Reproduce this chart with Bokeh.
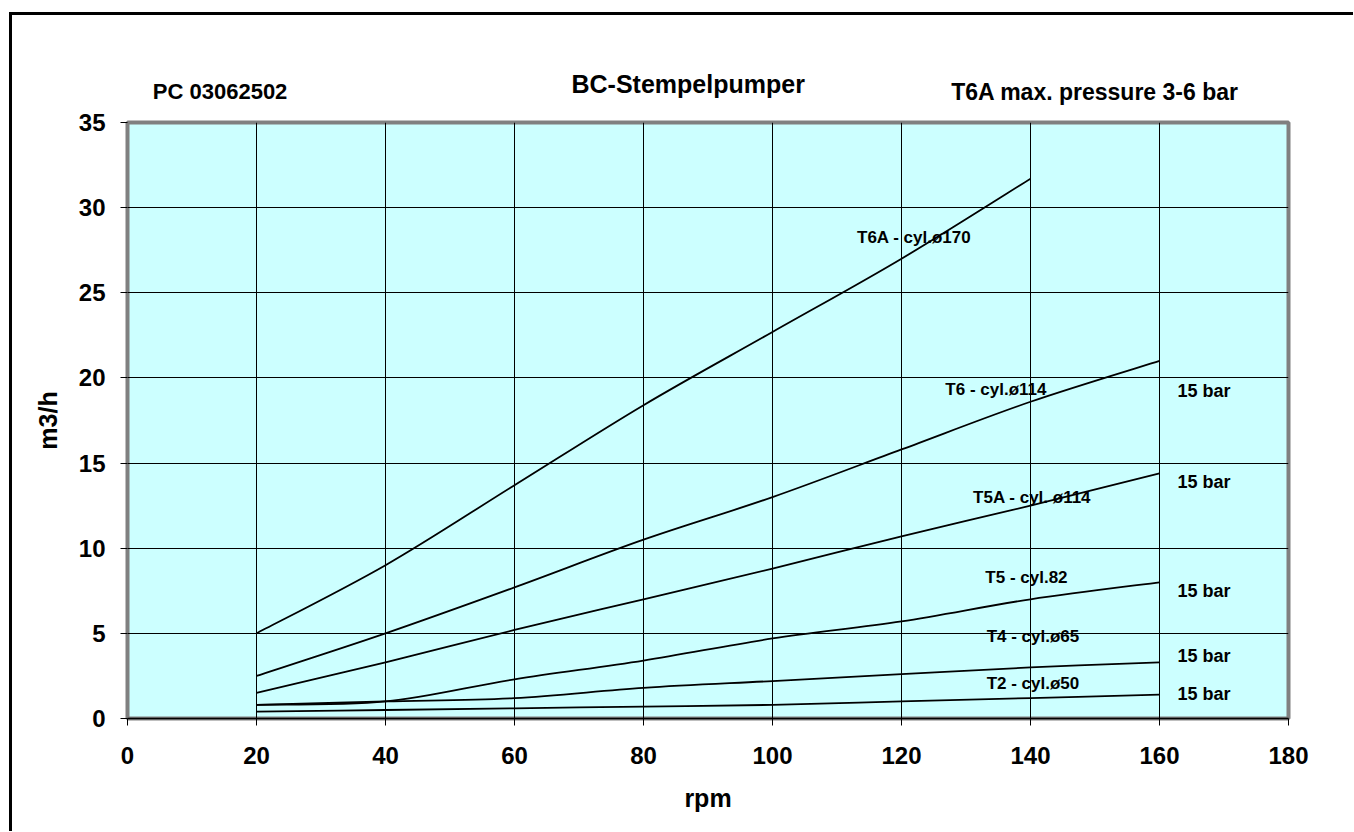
from bokeh.plotting import figure
from bokeh.models import Label, FixedTicker, Range1d
from bokeh.embed import file_html
from bokeh.resources import INLINE
from bokeh.core.properties import value

# ---------------- data ----------------
rpm = [20, 40, 60, 80, 100, 120, 140, 160]
rpm_t6a = [20, 40, 60, 80, 100, 120, 140]
t6a = [5.0, 9.0, 13.7, 18.4, 22.7, 27.0, 31.7]
t6 = [2.5, 5.0, 7.7, 10.5, 13.0, 15.8, 18.6, 21.0]
t5a = [1.5, 3.3, 5.2, 7.0, 8.8, 10.7, 12.5, 14.4]
t5 = [0.8, 1.0, 2.3, 3.4, 4.7, 5.7, 7.0, 8.0]
t4 = [0.8, 1.0, 1.2, 1.8, 2.2, 2.6, 3.0, 3.3]
t2 = [0.4, 0.5, 0.6, 0.7, 0.8, 1.0, 1.2, 1.4]

series_names = ["T6A - cyl.ø170", "T6 - cyl.ø114", "T5A - cyl. ø114",
                "T5 - cyl.82", "T4 - cyl.ø65", "T2 - cyl.ø50"]
pressure_text = "15 bar"
x_ticks = [0, 20, 40, 60, 80, 100, 120, 140, 160, 180]
y_ticks = [0, 5, 10, 15, 20, 25, 30, 35]

title_text = "BC-Stempelpumper"
left_note = "PC 03062502"
right_note = "T6A max. pressure 3-6 bar"
x_title = "rpm"
y_title = "m3/h"

# ---------------- label placement (annotation positions) ----------------
name_pos = [(113.1, 28.25), (126.8, 19.3), (131.1, 13.0),
            (133.0, 8.28), (133.2, 4.79), (133.2, 2.05)]
pressure_pos = [(162.8, 19.22), (162.8, 13.91), (162.8, 7.46),
                (162.8, 3.68), (162.8, 1.46)]
# header texts: screen pixels in their header panels (x from frame left, y up from panel bottom)
left_note_pos = (25.3, 30.9)
right_note_pos = (1111.3, 5.9)
title_pos = (444.0, -12.5)

FONT = "Liberation Sans"

p = figure(output_backend="svg", toolbar_location=None,
           frame_width=1161, frame_height=596,
           min_border_left=115, min_border_right=65,
           min_border_top=107, min_border_bottom=113,
           x_range=Range1d(0, 180), y_range=Range1d(0, 35),
           background_fill_color="#CCFFFF", border_fill_color="white")
p.styles = {"border-left": "3px solid black", "border-top": "3px solid black",
            "margin-left": "9px", "margin-top": "12px"}

p.outline_line_color = "#808080"
p.outline_line_width = 4

for ax, ticks in ((p.xaxis[0], x_ticks), (p.yaxis[0], y_ticks)):
    ax.ticker = FixedTicker(ticks=ticks)
    ax.major_label_text_font = FONT
    ax.major_label_text_font_size = "24px"
    ax.major_label_text_font_style = "bold"
    ax.major_label_text_color = "black"
    ax.major_tick_out = 7
    ax.major_tick_in = 0
    ax.minor_tick_line_color = None
    ax.major_tick_line_color = "black"
    ax.axis_label_text_font = FONT
    ax.axis_label_text_font_size = "25px"
    ax.axis_label_text_font_style = "bold"
    ax.axis_label_text_color = "black"

p.xaxis.axis_label = x_title
p.yaxis.axis_label = y_title
p.xaxis.axis_line_color = "black"
p.xaxis.axis_line_width = 1.5
p.yaxis.axis_line_color = None
p.xaxis.major_label_standoff = 21
p.yaxis.major_label_standoff = 15
p.xaxis.axis_label_standoff = 17
p.yaxis.axis_label_standoff = 14

p.xgrid.ticker = FixedTicker(ticks=x_ticks)
p.ygrid.ticker = FixedTicker(ticks=y_ticks)
for g in (p.xgrid[0], p.ygrid[0]):
    g.grid_line_color = "black"
    g.grid_line_width = 1
    g.grid_line_alpha = 1.0


def smooth_segments(xs, ys):
    """Bezier segments through the data points (Excel-like smoothed line)."""
    n = len(xs)
    out = {k: [] for k in ("x0", "y0", "x1", "y1", "cx0", "cy0", "cx1", "cy1")}
    for i in range(n - 1):
        ip = max(i - 1, 0)
        inn = min(i + 2, n - 1)
        out["x0"].append(xs[i]); out["y0"].append(ys[i])
        out["x1"].append(xs[i + 1]); out["y1"].append(ys[i + 1])
        out["cx0"].append(xs[i] + (xs[i + 1] - xs[ip]) / 6.0)
        out["cy0"].append(ys[i] + (ys[i + 1] - ys[ip]) / 6.0)
        out["cx1"].append(xs[i + 1] - (xs[inn] - xs[i]) / 6.0)
        out["cy1"].append(ys[i + 1] - (ys[inn] - ys[i]) / 6.0)
    return out


all_series = [(rpm_t6a, t6a), (rpm, t6), (rpm, t5a), (rpm, t5), (rpm, t4), (rpm, t2)]
for xs, ys in all_series:
    s = smooth_segments(xs, ys)
    p.bezier(x0=s["x0"], y0=s["y0"], x1=s["x1"], y1=s["y1"],
             cx0=s["cx0"], cy0=s["cy0"], cx1=s["cx1"], cy1=s["cy1"],
             line_color="black", line_width=1.8)

p.text(x=[q[0] for q in name_pos], y=[q[1] for q in name_pos], text=series_names,
       text_font=value(FONT), text_font_size="17px", text_font_style="bold",
       text_align="left", text_baseline="middle", text_color="black")
p.text(x=[q[0] for q in pressure_pos], y=[q[1] for q in pressure_pos],
       text=[pressure_text] * len(pressure_pos),
       text_font=value(FONT), text_font_size="18px", text_font_style="bold",
       text_align="left", text_baseline="middle", text_color="black")

p.add_layout(Label(x=left_note_pos[0], y=left_note_pos[1],
                   x_units="screen", y_units="screen",
                   text=left_note, text_font=FONT, text_color="black",
                   text_font_size="22px", text_font_style="bold",
                   text_align="left", text_baseline="alphabetic"), "above")
p.add_layout(Label(x=right_note_pos[0], y=right_note_pos[1],
                   x_units="screen", y_units="screen",
                   text=right_note, text_font=FONT, text_color="black",
                   text_font_size="23px", text_font_style="bold",
                   text_align="right", text_baseline="alphabetic"), "above")
p.add_layout(Label(x=title_pos[0], y=title_pos[1],
                   x_units="screen", y_units="screen",
                   text=title_text, text_font=FONT, text_color="black",
                   text_font_size="25px", text_font_style="bold",
                   text_align="left", text_baseline="alphabetic"), "above")

open("out.html", "w").write(file_html(p, INLINE))
